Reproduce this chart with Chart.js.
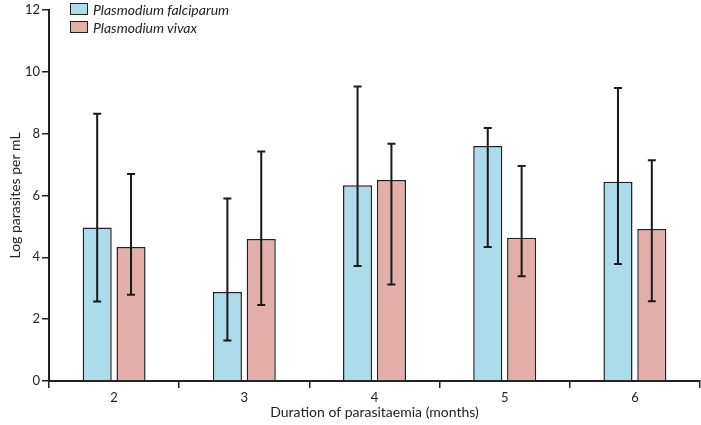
<!DOCTYPE html>
<html>
<head>
<meta charset="utf-8">
<script src="https://cdn.jsdelivr.net/npm/chart.js@4"></script>
<style>
  body { margin: 0; background: #fff; }
  #wrap { position: relative; width: 701px; height: 425px; }
  .legend { position: absolute; left: 70px; top: 0px; font-family: Lato, sans-serif; font-size: 14px; font-style: italic; color: #222; }
  .legend div { display: flex; align-items: center; height: 18px; }
  .legend span.box { display: inline-block; width: 16px; height: 10px; border: 1.5px solid #222; margin-right: 5px; }
</style>
</head>
<body>
<div id="wrap">
  <canvas id="chart"></canvas>
  <div class="legend">
    <div><span class="box" style="background:#acdbe9"></span>Plasmodium falciparum</div>
    <div><span class="box" style="background:#e4afab"></span>Plasmodium vivax</div>
  </div>
</div>
<script>
const months = ['2', '3', '4', '5', '6'];
const falciparum = [4.96, 2.88, 6.33, 7.6, 6.44];
const falciparumLow = [2.57, 1.31, 3.72, 4.33, 3.78];
const falciparumHigh = [8.64, 5.9, 9.52, 8.18, 9.47];
const vivax = [4.33, 4.59, 6.5, 4.63, 4.91];
const vivaxLow = [2.79, 2.46, 3.12, 3.39, 2.58];
const vivaxHigh = [6.69, 7.42, 7.67, 6.95, 7.14];
const yTicks = [0, 2, 4, 6, 8, 10, 12];

// draws the whiskers on top of each bar
const errorBars = {
    id: 'errorBars',
    afterDatasetsDraw(chart) {
        const ctx = chart.ctx;
        const y = chart.scales.y;
        chart.data.datasets.forEach((ds, i) => {
            const meta = chart.getDatasetMeta(i);
            meta.data.forEach((bar, j) => {
                const top = y.getPixelForValue(ds.high[j]);
                const bottom = y.getPixelForValue(ds.low[j]);
                ctx.save();
                ctx.strokeStyle = '#1a1a1a';
                ctx.lineWidth = 2;
                ctx.beginPath();
                ctx.moveTo(bar.x, top);
                ctx.lineTo(bar.x, bottom);
                ctx.moveTo(bar.x - 4, top);
                ctx.lineTo(bar.x + 4, top);
                ctx.moveTo(bar.x - 4, bottom);
                ctx.lineTo(bar.x + 4, bottom);
                ctx.stroke();
                ctx.restore();
            });
        });
    }
};

const tickFont = { family: 'Lato, sans-serif', size: 13 };
const titleFont = { family: 'Lato, sans-serif', size: 14 };

new Chart(document.getElementById('chart'), {
    type: 'bar',
    data: {
        labels: months,
        datasets: [{
            label: 'Plasmodium falciparum',
            data: falciparum,
            low: falciparumLow,
            high: falciparumHigh,
            backgroundColor: '#acdbe9',
            borderColor: '#222',
            borderWidth: 1.5,
            categoryPercentage: 0.52,
            barPercentage: 0.86
        }, {
            label: 'Plasmodium vivax',
            data: vivax,
            low: vivaxLow,
            high: vivaxHigh,
            backgroundColor: '#e4afab',
            borderColor: '#222',
            borderWidth: 1.5,
            categoryPercentage: 0.52,
            barPercentage: 0.86
        }]
    },
    options: {
        responsive: true,
        maintainAspectRatio: false,
        animation: false,
        layout: { padding: { top: 6, right: 1, left: 0, bottom: 0 } },
        scales: {
            x: {
                grid: { offset: true, drawOnChartArea: false, drawTicks: true, tickLength: 7, color: '#222', lineWidth: 1.5 },
                border: { color: '#222', width: 2 },
                ticks: { color: '#222', font: tickFont, padding: 2 },
                title: { display: true, text: 'Duration of parasitaemia (months)', color: '#222', font: titleFont, padding: { top: 0, bottom: 4 } },
                afterFit: s => { s.height = 44; }
            },
            y: {
                min: 0,
                max: 12,
                afterBuildTicks: s => { s.ticks = yTicks.map(v => ({ value: v })); },
                grid: { drawOnChartArea: false, drawTicks: true, tickLength: 7, color: '#222', lineWidth: 1.5 },
                border: { color: '#222', width: 2 },
                ticks: { color: '#222', font: tickFont, padding: 2 },
                title: { display: true, text: 'Log parasites per mL', color: '#222', font: titleFont, padding: { top: 7, bottom: 0 } },
                afterFit: s => { s.width = 49; }
            }
        },
        plugins: {
            legend: { display: false },
            tooltip: { enabled: false }
        }
    },
    plugins: [errorBars]
});
</script>
</body>
</html>
